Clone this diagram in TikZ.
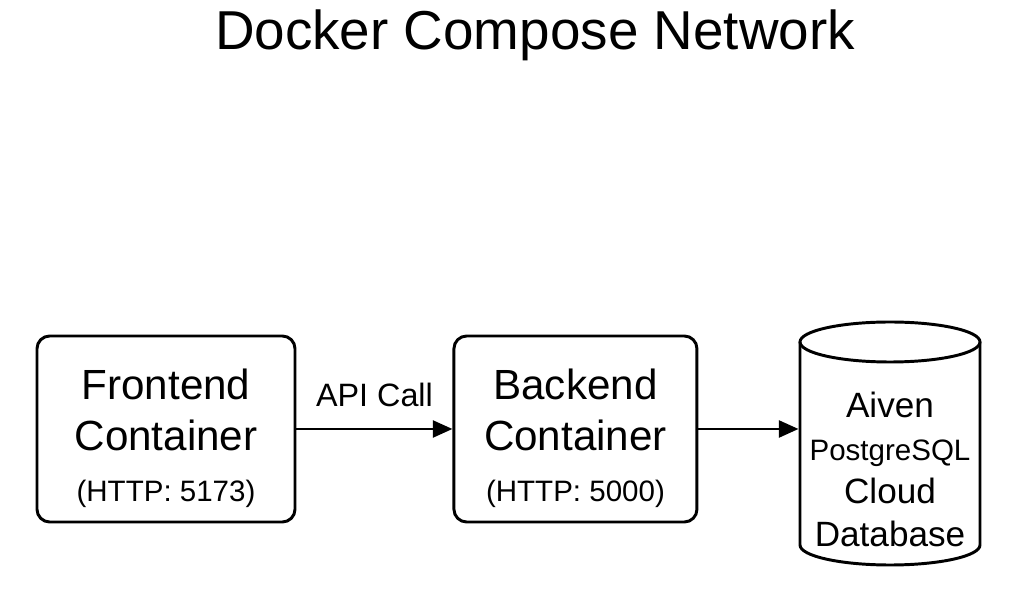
\documentclass[tikz,border=0pt]{standalone}
\usepackage{fontspec}
\setmainfont{Liberation Sans}
\usetikzlibrary{arrows.meta,positioning}

\begin{document}
\begin{tikzpicture}[line width=2.1pt,
    box/.style={draw, rounded corners=9pt, minimum width=6.45cm, minimum height=4.65cm,
      align=center, font=\fontsize{30}{36}\selectfont},
    link/.style={-{Triangle[length=14pt,width=12pt]}}]
  \useasboundingbox (0,0) rectangle (25.6,15.125);

  \node[anchor=base, font=\fontsize{39}{47}\selectfont] (title) at (13.375,13.875) {Docker Compose Network};

  \node[box] (fe) at (4.15,4.4) {\rule{0pt}{35pt}Frontend\\Container\\{\fontsize{21}{36}\selectfont (HTTP: 5173)}};
  \node[box, minimum width=6.075cm, right=3.9cm of fe] (be) {\rule{0pt}{35pt}Backend\\Container\\{\fontsize{21}{36}\selectfont (HTTP: 5000)}};

  % database cylinder
  \node[minimum width=4.5cm, align=center, font=\fontsize{25}{30.5}\selectfont] (db) at (22.25,3.39)
    {Aiven\\{\fontsize{21}{30.5}\selectfont PostgreSQL}\\Cloud\\Database};
  \draw (20,6.575) -- (20,1.5) arc[start angle=180, end angle=360, x radius=2.25cm, y radius=0.5cm] -- (24.5,6.575);
  \draw (22.25,6.575) ellipse [x radius=2.25cm, y radius=0.5cm];

  \draw[link] (fe) -- node[above=15pt, inner sep=0, font=\fontsize{23}{27}\selectfont] (api) {API Call} (be);
  \draw[link] (be.east) -- (be.east -| db.west);
\end{tikzpicture}
\end{document}
